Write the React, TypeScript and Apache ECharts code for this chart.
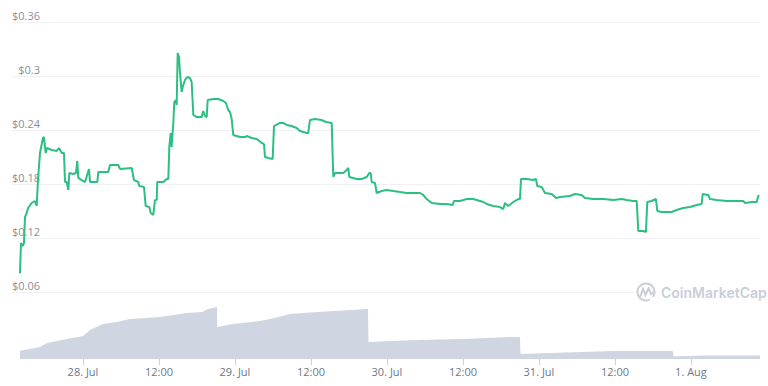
import React, { useEffect, useRef } from "react";
import * as echarts from "echarts";

// hours relative to 28 Jul 00:00
const priceHours = [
  -9.95, -9.79, -9.52, -9.32, -9.16, -8.89, -8.68, -8.1, -7.58, -7.31, -7.11, -6.79, -6.32, -6.16, -5.89, -5.68,
  -4.94, -4.15, -3.79, -3.36, -3.0, -2.84, -2.57, -2.32, -2.16, -1.53, -1.11, -0.9, -0.74, -0.21, 0.32, 0.95,
  1.11, 2.26, 2.42, 3.99, 4.26, 5.57, 5.84, 7.69, 8.05, 8.73, 8.89, 9.63, 9.9, 10.47, 10.69, 11.1,
  11.37, 11.64, 11.73, 12.68, 13.22, 13.47, 13.63, 13.85, 14.0, 14.26, 14.42, 14.68, 14.79, 14.95, 15.16, 15.32,
  15.58, 15.74, 16.11, 16.47, 16.89, 17.16, 17.42, 17.95, 18.74, 18.99, 19.26, 19.53, 19.69, 20.57, 21.36, 22.15,
  22.58, 22.94, 23.21, 23.48, 23.73, 24.79, 25.58, 25.85, 26.64, 27.43, 28.22, 28.58, 28.74, 29.26, 29.95, 30.16,
  31.11, 31.63, 32.16, 32.95, 33.74, 34.26, 35.32, 35.57, 35.84, 36.63, 37.69, 38.37, 39.27, 39.52, 39.79, 41.1,
  41.64, 41.89, 42.05, 43.22, 44.0, 44.79, 45.21, 45.43, 45.58, 46.11, 46.37, 47.16, 47.95, 48.99, 50.05, 51.11,
  52.42, 53.21, 53.73, 54.27, 55.06, 56.37, 57.43, 58.37, 58.58, 59.53, 60.58, 61.63, 62.16, 63.21, 63.74, 64.78,
  65.84, 66.36, 66.63, 67.15, 67.94, 68.73, 69.0, 69.16, 70.06, 71.1, 71.53, 71.73, 72.43, 72.95, 74.01, 74.68,
  75.32, 76.89, 77.68, 78.74, 79.26, 80.57, 82.15, 83.73, 85.06, 85.85, 86.89, 87.43, 87.68, 88.47, 88.89, 89.1,
  89.79, 90.47, 90.68, 91.37, 92.16, 92.95, 93.74, 94.78, 95.84, 96.9, 97.69, 97.85, 98.73, 99.0, 100.06, 101.64,
  103.21, 104.26, 104.53, 105.58, 106.37, 106.63, 106.74,
];
const priceUsd = [
  0.0808, 0.1144, 0.1111, 0.1144, 0.1433, 0.1478, 0.1533, 0.1589, 0.1611, 0.1556, 0.1844, 0.2144, 0.2311, 0.2322, 0.2144, 0.22,
  0.2178, 0.2167, 0.22, 0.2144, 0.2144, 0.1822, 0.1822, 0.1733, 0.1922, 0.1911, 0.1922, 0.2056, 0.1867, 0.1844, 0.1822, 0.1967,
  0.1822, 0.1822, 0.1933, 0.1933, 0.2011, 0.2011, 0.1967, 0.1978, 0.1844, 0.1822, 0.1778, 0.1767, 0.1556, 0.1544, 0.1478, 0.1456,
  0.1622, 0.1622, 0.1822, 0.1822, 0.1856, 0.1856, 0.2211, 0.2367, 0.2211, 0.2478, 0.2711, 0.2733, 0.2678, 0.3256, 0.3211, 0.3033,
  0.2822, 0.2878, 0.2956, 0.2989, 0.2978, 0.2933, 0.2567, 0.2544, 0.2544, 0.2611, 0.2556, 0.2544, 0.2733, 0.2744, 0.2744, 0.2722,
  0.27, 0.2622, 0.26, 0.2522, 0.2344, 0.2322, 0.2322, 0.2333, 0.2311, 0.23, 0.2256, 0.2244, 0.21, 0.2089, 0.2078, 0.2444,
  0.2478, 0.2478, 0.2456, 0.2444, 0.2422, 0.2389, 0.2367, 0.2367, 0.2511, 0.2522, 0.2511, 0.2489, 0.2478, 0.1878, 0.1922, 0.1922,
  0.1956, 0.1978, 0.1878, 0.1856, 0.1856, 0.1878, 0.1922, 0.1922, 0.1822, 0.1811, 0.17, 0.1722, 0.1733, 0.1722, 0.1711, 0.17,
  0.17, 0.17, 0.1678, 0.1633, 0.1589, 0.1578, 0.1578, 0.1567, 0.1611, 0.1611, 0.1633, 0.1633, 0.1622, 0.16, 0.1578, 0.1556,
  0.1544, 0.1522, 0.1589, 0.1556, 0.16, 0.1633, 0.1633, 0.1856, 0.1856, 0.1844, 0.1856, 0.1778, 0.1767, 0.17, 0.1689, 0.1644,
  0.1656, 0.1667, 0.1689, 0.1678, 0.1644, 0.1633, 0.1633, 0.1622, 0.1633, 0.1622, 0.1611, 0.1611, 0.1278, 0.1278, 0.1267, 0.16,
  0.1611, 0.1633, 0.15, 0.1489, 0.1489, 0.1489, 0.1511, 0.1533, 0.1544, 0.1567, 0.1578, 0.1689, 0.1678, 0.1633, 0.1622, 0.1611,
  0.1611, 0.1611, 0.1589, 0.16, 0.16, 0.1667, 0.1678,
];

const volumeHours = [
  -9.95, -6.79, -5.68, -2.53, 0, 1.11, 3.16, 5.37, 7.42, 12.16, 16.42, 18.79, 19.74, 21.16, 21.2, 23.68, 27.95,
  29.53, 32.68, 36.95, 45.0, 45.08, 52.74, 60.0, 67.42, 69.0, 69.08, 73.74, 78.95, 83.68, 93.16, 93.24, 97.89, 106.9,
];
const volumeM = [
  0.83, 1.2, 1.6, 2.0, 2.3, 2.9, 3.5, 3.7, 4.0, 4.2, 4.6, 4.7, 5.0, 5.2, 3.2, 3.5, 3.8,
  4.0, 4.5, 4.7, 5.0, 1.7, 1.9, 2.0, 2.2, 2.2, 0.5, 0.6, 0.7, 0.8, 0.8, 0.25, 0.35, 0.35,
];

const tickHours = [0, 12, 24, 36, 48, 60, 72, 84, 96];
const tickLabels = ["28. Jul", "12:00", "29. Jul", "12:00", "30. Jul", "12:00", "31. Jul", "12:00", "1. Aug"];

const X_MIN = -11.21;
const X_MAX = 106.9;
const FONT = "'Open Sans', 'Noto Sans', sans-serif";

export default function App() {
  const ref = useRef<HTMLDivElement>(null);
  useEffect(() => {
    if (!ref.current) return;
    const chart = echarts.init(ref.current, undefined, { renderer: "svg" });
    const price = priceHours.map((h, i) => [h, priceUsd[i]]);
    const vol = volumeHours.map((h, i) => [h, volumeM[i]]);
    chart.setOption({
      animation: false,
      backgroundColor: "#ffffff",
      grid: [
        { left: 12, right: 8, top: 22, height: 270 },
        { left: 12, right: 8, top: 290, height: 69 },
      ],
      xAxis: [
        { type: "value", gridIndex: 0, min: X_MIN, max: X_MAX, show: false },
        {
          type: "value",
          gridIndex: 1,
          min: X_MIN,
          max: X_MAX,
          axisLine: { show: false },
          splitLine: { show: false },
          axisTick: {
            show: true,
            customValues: tickHours,
            length: 6,
            lineStyle: { color: "#ccd1d9" },
          },
          axisLabel: {
            customValues: tickHours,
            margin: 7,
            color: "#6f7785",
            fontSize: 11,
            fontFamily: FONT,
            formatter: (v: number) => {
              const i = tickHours.indexOf(Math.round(v));
              return i >= 0 ? tickLabels[i] : "";
            },
          },
        },
      ],
      yAxis: [
        {
          type: "value",
          gridIndex: 0,
          min: 0.06,
          max: 0.36,
          interval: 0.06,
          position: "left",
          axisLine: { show: false },
          axisTick: { show: false },
          splitLine: { lineStyle: { color: "#eef0f3", width: 1 } },
          axisLabel: {
            inside: true,
            margin: 28,
            align: "right",
            verticalAlign: "bottom",
            padding: [0, 0, 1, 0],
            color: "#8b9099",
            fontSize: 11,
            fontFamily: FONT,
            formatter: (v: number) => "$" + parseFloat(v.toFixed(2)),
          },
        },
        { type: "value", gridIndex: 1, min: 0, max: 6.9, show: false },
      ],
      series: [
        {
          type: "line",
          xAxisIndex: 1,
          yAxisIndex: 1,
          data: vol,
          showSymbol: false,
          lineStyle: { width: 0 },
          areaStyle: { color: "#cfd5e1", opacity: 1 },
          z: 1,
        },
        {
          type: "line",
          xAxisIndex: 0,
          yAxisIndex: 0,
          data: price,
          showSymbol: false,
          lineStyle: { color: "#2cbf82", width: 2 },
          z: 3,
        },
      ],
      graphic: [
        { type: "rect", shape: { x: 634, y: 281, width: 126, height: 22 }, style: { fill: "#ffffff" }, z: 5 },
        {
          type: "arc",
          shape: { cx: 646, cy: 292, r: 8.5, startAngle: Math.PI * 0.35, endAngle: Math.PI * 0.2, clockwise: true },
          style: { stroke: "#c9ced6", lineWidth: 2, fill: "none" },
          z: 6,
        },
        {
          type: "polyline",
          shape: { points: [[640, 297], [643, 289], [645.5, 295], [648.5, 288.5], [651, 294], [654, 292]] },
          style: { stroke: "#c9ced6", lineWidth: 2, fill: "none" },
          z: 6,
        },
        {
          type: "text",
          x: 661,
          y: 292,
          style: {
            text: "CoinMarketCap",
            fill: "#c9ced6",
            fontSize: 14,
            fontWeight: 600,
            fontFamily: "Inter, 'Open Sans', sans-serif",
            verticalAlign: "middle",
            align: "left",
          },
          z: 6,
        },
      ],
    });
    return () => chart.dispose();
  }, []);
  return <div ref={ref} style={{ position: "fixed", left: 0, top: 0, width: 768, height: 386 }} />;
}
